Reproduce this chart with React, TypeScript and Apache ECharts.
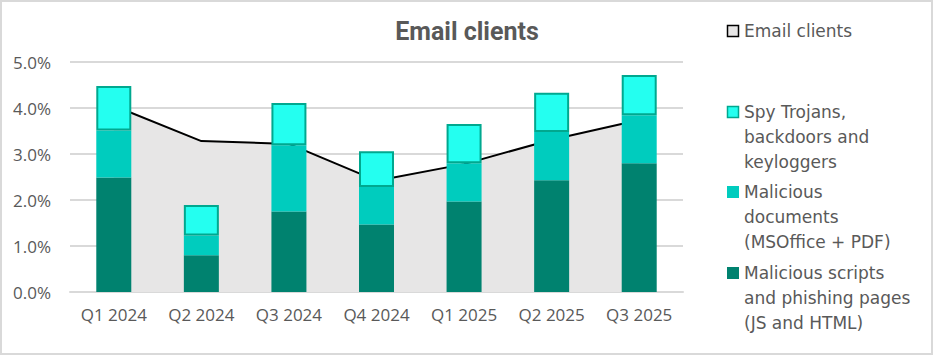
import React, { useEffect, useRef } from "react";
import * as echarts from "echarts";

const categories = ["Q1 2024", "Q2 2024", "Q3 2024", "Q4 2024", "Q1 2025", "Q2 2025", "Q3 2025"];
const scriptsValues = [2.49, 0.8, 1.75, 1.47, 1.97, 2.43, 2.8];
const docsValues = [1.02, 0.43, 1.44, 0.81, 0.83, 1.05, 1.04];
const spyValues = [0.97, 0.66, 0.92, 0.78, 0.85, 0.85, 0.88];
const emailValues = [4.05, 3.28, 3.22, 2.42, 2.78, 3.31, 3.74];
const yTicks = [0, 1, 2, 3, 4, 5];

const NAME_EMAIL = "Email clients";
const NAME_SPY = "Spy Trojans,\nbackdoors and\nkeyloggers";
const NAME_DOCS = "Malicious\ndocuments\n(MSOffice + PDF)";
const NAME_SCRIPTS = "Malicious scripts\nand phishing pages\n(JS and HTML)";

const FONT_AXIS = "'Open Sans', Roboto, sans-serif";
const FONT_LEGEND = "'DejaVu Sans', 'Noto Sans', sans-serif";
const FONT_TITLE = "Roboto, 'Noto Sans', sans-serif";
const TEXT = "#595959";
const C_SPY = "#24fff0";
const C_SPY_BORDER = "#00a88f";
const C_DOCS = "#00ccbe";
const C_SCRIPTS = "#00826f";
const C_AREA = "#e7e6e6";

export default function App() {
  const ref = useRef<HTMLDivElement>(null);
  useEffect(() => {
    if (!ref.current) return;
    const chart = echarts.init(ref.current, null, { renderer: "svg" });

    const legendItems = [
      { name: NAME_EMAIL, cy: 31, fill: C_AREA, stroke: "#000000" },
      { name: NAME_SPY, cy: 112, fill: C_SPY, stroke: C_SPY_BORDER },
      { name: NAME_DOCS, cy: 192, fill: C_DOCS, stroke: null },
      { name: NAME_SCRIPTS, cy: 273, fill: C_SCRIPTS, stroke: null },
    ];
    const legendGraphics: any[] = [];
    legendItems.forEach((it) => {
      legendGraphics.push({
        type: "rect",
        silent: true,
        shape: it.stroke ? { x: 727.5, y: it.cy - 5.5, width: 11, height: 11 } : { x: 727, y: it.cy - 6, width: 12, height: 12 },
        style: it.stroke ? { fill: it.fill, stroke: it.stroke, lineWidth: 1.5 } : { fill: it.fill },
      });
      legendGraphics.push({
        type: "text",
        silent: true,
        x: 744,
        y: it.cy - 12.5,
        style: {
          text: it.name,
          fontSize: 17,
          fontFamily: FONT_LEGEND,
          lineHeight: 25,
          fill: TEXT,
          verticalAlign: "top",
          align: "left",
        },
      });
    });

    chart.setOption({
      animation: false,
      backgroundColor: "#ffffff",
      title: {
        text: "Email clients",
        left: 462,
        textAlign: "center",
        top: 14,
        textStyle: { fontFamily: FONT_TITLE, fontSize: 25, fontWeight: "bold", color: TEXT },
      },
      grid: { left: 70, right: 251, top: 62, bottom: 64 },
      xAxis: {
        type: "category",
        data: categories,
        axisLine: { show: true, lineStyle: { color: "#d9d9d9", width: 2 } },
        axisTick: { show: false },
        axisLabel: { color: TEXT, fontFamily: FONT_AXIS, fontSize: 17, margin: 14 },
      },
      yAxis: {
        type: "value",
        min: yTicks[0],
        max: yTicks[yTicks.length - 1],
        interval: 1,
        axisLine: { show: false },
        axisTick: { show: false },
        splitLine: { lineStyle: { color: "#d9d9d9", width: 2 } },
        axisLabel: {
          color: TEXT,
          fontFamily: FONT_AXIS,
          fontSize: 17,
          margin: 19,
          formatter: (v: number) => v.toFixed(1) + "%",
        },
      },
      series: [
        {
          name: NAME_EMAIL,
          type: "line",
          data: emailValues,
          symbol: "none",
          z: 1,
          lineStyle: { color: "#000000", width: 2 },
          areaStyle: { color: C_AREA, opacity: 1 },
        },
        {
          name: NAME_SCRIPTS,
          type: "bar",
          stack: "total",
          barWidth: 35,
          data: scriptsValues,
          z: 3,
          itemStyle: { color: C_SCRIPTS },
        },
        {
          name: NAME_DOCS,
          type: "bar",
          stack: "total",
          barWidth: 35,
          data: docsValues,
          z: 3,
          itemStyle: { color: C_DOCS },
        },
        {
          name: NAME_SPY,
          type: "bar",
          stack: "total",
          barWidth: 35,
          data: spyValues,
          z: 3,
          itemStyle: { color: C_SPY, borderColor: C_SPY_BORDER, borderWidth: 2 },
        },
      ],
      graphic: [
        {
          type: "rect",
          silent: true,
          z: 100,
          shape: { x: 1, y: 1, width: 931, height: 353 },
          style: { fill: "none", stroke: "#d9d9d9", lineWidth: 2 },
        },
        ...legendGraphics,
      ],
    });
    return () => chart.dispose();
  }, []);
  return (
    <div
      ref={ref}
      style={{ position: "absolute", left: 0, top: 0, width: 934, height: 356 }}
    />
  );
}
